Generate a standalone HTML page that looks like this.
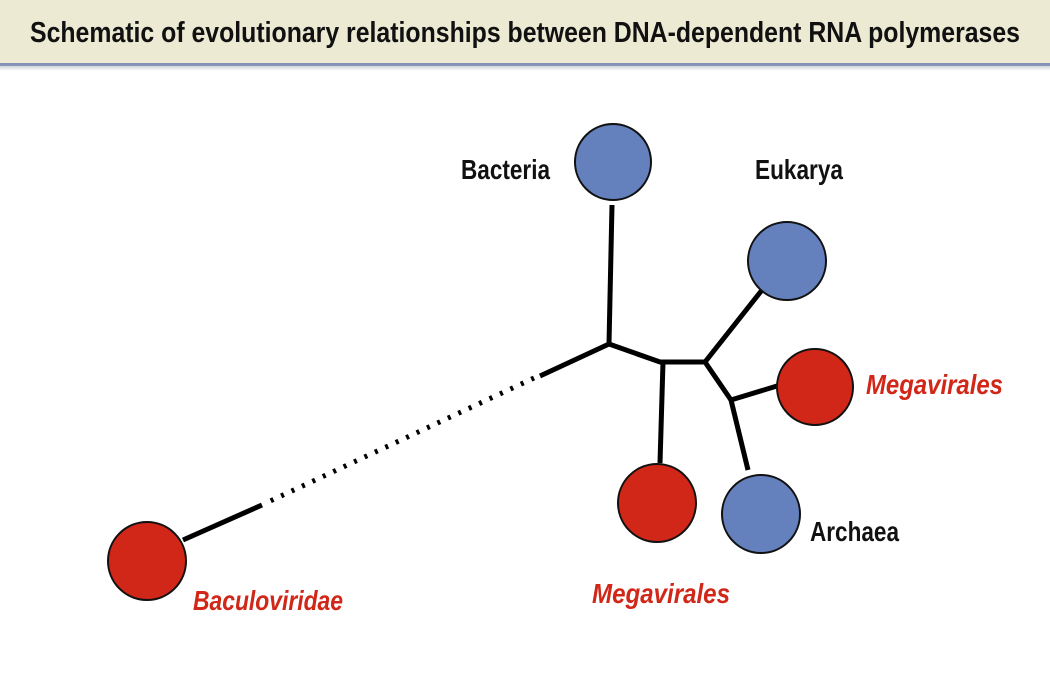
<!DOCTYPE html>
<html><head><meta charset="utf-8"><style>
html,body{margin:0;padding:0;background:#fff;}
svg{display:block;}
text{font-family:"Liberation Sans",sans-serif;font-weight:bold;}
</style></head><body>
<svg width="1050" height="700" viewBox="0 0 1050 700" xmlns="http://www.w3.org/2000/svg">
<defs><linearGradient id="sh" x1="0" y1="0" x2="0" y2="1"><stop offset="0" stop-color="#cfd3dc"/><stop offset="1" stop-color="#ffffff"/></linearGradient></defs>
<rect x="0" y="0" width="1050" height="63" fill="#edead4"/>
<rect x="0" y="63" width="1050" height="3" fill="#8593b6"/>
<rect x="0" y="66" width="1050" height="5" fill="url(#sh)"/>
<text x="30" y="42" font-size="29" textLength="990" lengthAdjust="spacingAndGlyphs" fill="#111">Schematic of evolutionary relationships between DNA-dependent RNA polymerases</text>
<g stroke="#000" stroke-width="5" fill="none" stroke-linecap="butt">
<polyline points="612,205 609,344 660,362 705,362 762,290"/>
<polyline points="663,362 660,463"/>
<polyline points="705,362 731,400 777,386"/>
<polyline points="731,400 748,470"/>
<line x1="609" y1="344" x2="540" y2="376"/>
<line x1="262" y1="505" x2="183" y2="540"/>
<line x1="534" y1="378" x2="266" y2="503" stroke-dasharray="3,8.5" stroke-width="5"/>
</g>
<g stroke="#111" stroke-width="2">
<circle cx="613" cy="162" r="38" fill="#6480bd"/>
<circle cx="787" cy="261" r="39" fill="#6480bd"/>
<circle cx="815" cy="387" r="38" fill="#d02718"/>
<circle cx="761" cy="514" r="39" fill="#6480bd"/>
<circle cx="657" cy="503" r="39" fill="#d02718"/>
<circle cx="147" cy="561" r="39" fill="#d02718"/>
</g>
<g font-size="28" fill="#111">
<text x="461" y="179" textLength="89" lengthAdjust="spacingAndGlyphs">Bacteria</text>
<text x="755" y="179" textLength="88" lengthAdjust="spacingAndGlyphs">Eukarya</text>
<text x="810" y="541" textLength="89" lengthAdjust="spacingAndGlyphs">Archaea</text>
</g>
<g font-size="28" fill="#d02718" font-style="italic">
<text x="866" y="394" textLength="137" lengthAdjust="spacingAndGlyphs">Megavirales</text>
<text x="592" y="603" textLength="138" lengthAdjust="spacingAndGlyphs">Megavirales</text>
<text x="193" y="610" textLength="150" lengthAdjust="spacingAndGlyphs">Baculoviridae</text>
</g>
</svg>
</body></html>
